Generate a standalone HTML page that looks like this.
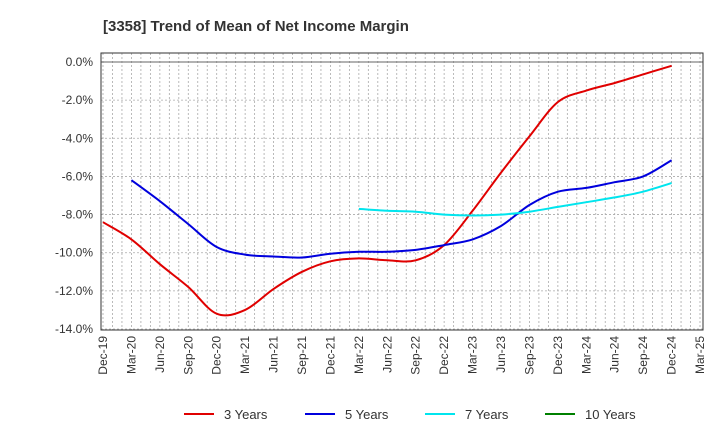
<!DOCTYPE html>
<html><head><meta charset="utf-8"><style>
body{margin:0;background:#fff;font-family:"Liberation Sans",sans-serif}
</style></head><body>
<svg id="chart" width="720" height="440" xmlns="http://www.w3.org/2000/svg">
<text x="103" y="31" font-size="15" font-weight="bold" fill="#333">[3358]  Trend of Mean of Net Income Margin</text>
<g id="grid"></g><g id="axes"></g><g id="series"></g>
<g id="legend"></g>
</svg>
<script>
const categories=["Dec-19","Mar-20","Jun-20","Sep-20","Dec-20","Mar-21","Jun-21","Sep-21","Dec-21","Mar-22","Jun-22","Sep-22","Dec-22","Mar-23","Jun-23","Sep-23","Dec-23","Mar-24","Jun-24","Sep-24","Dec-24","Mar-25"];
const yTicks=[0,-2,-4,-6,-8,-10,-12,-14];
const y3=[-8.4,-9.3,-10.6,-11.8,-13.2,-13.0,-11.9,-11.0,-10.45,-10.3,-10.4,-10.4,-9.6,-7.8,-5.8,-3.9,-2.1,-1.5,-1.1,-0.65,-0.2,null];
const y5=[null,-6.2,-7.3,-8.5,-9.7,-10.1,-10.2,-10.25,-10.05,-9.95,-9.95,-9.85,-9.6,-9.3,-8.6,-7.5,-6.8,-6.6,-6.3,-6.0,-5.15,null];
const y7=[null,null,null,null,null,null,null,null,null,-7.7,-7.8,-7.85,-8.0,-8.05,-8.0,-7.85,-7.6,-7.35,-7.1,-6.8,-6.35,null];
const y10=[];
const NS="http://www.w3.org/2000/svg";
const L=101,R=703,T=53,B=330,x0=103,x1=700;
const X=i=>x0+(x1-x0)*i/(categories.length-1);
const Y=v=>62+(v/-14)*(329-62);
function mk(t,a,p){const e=document.createElementNS(NS,t);for(const k in a)e.setAttribute(k,a[k]);p.appendChild(e);return e;}
const grid=document.getElementById('grid'),axes=document.getElementById('axes'),ser=document.getElementById('series');
for(let m=0;m<=(categories.length-1)*3;m++){const x=x0+(x1-x0)*m/((categories.length-1)*3);
 const g=mk('line',{x1:x,x2:x,y1:T,y2:B,stroke:'#aaa','stroke-dasharray':'2,2','stroke-width':0.8},grid);
 }
yTicks.forEach(v=>{const g=mk('line',{x1:L,x2:R,y1:Y(v),y2:Y(v),stroke:v===0?'#666':'#aaa','stroke-dasharray':v===0?'':'2,2','stroke-width':v===0?1:0.8},grid);
 
 const t=mk('text',{x:L-8,y:Y(v)+4,'text-anchor':'end','font-size':12,fill:'#333'},axes);t.textContent=v.toFixed(1)+'%';
 });
const fr=mk('rect',{x:L,y:T,width:R-L,height:B-T,fill:'none',stroke:'#333','stroke-width':1},axes);

categories.forEach((c,i)=>{const t=mk('text',{transform:`translate(${X(i)+4},${B+6}) rotate(-90)`,'text-anchor':'end','font-size':12,fill:'#333'},axes);t.textContent=c;
 });
function line(d,col,name){const pts=[];d.forEach((v,i)=>{if(v!=null)pts.push([X(i),Y(v)]);});
 if(pts.length<2)return;let p='M'+pts[0][0].toFixed(1)+','+pts[0][1].toFixed(1);
 for(let i=0;i<pts.length-1;i++){const a=pts[Math.max(0,i-1)],b=pts[i],c=pts[i+1],e=pts[Math.min(pts.length-1,i+2)];
  const c1x=b[0]+(c[0]-a[0])/6,c1y=b[1]+(c[1]-a[1])/6,c2x=c[0]-(e[0]-b[0])/6,c2y=c[1]-(e[1]-b[1])/6;
  p+=`C${c1x.toFixed(1)},${c1y.toFixed(1)} ${c2x.toFixed(1)},${c2y.toFixed(1)} ${c[0].toFixed(1)},${c[1].toFixed(1)}`;}
 const el=mk('path',{d:p,fill:'none',stroke:col,'stroke-width':2,'stroke-linejoin':'round'},ser);
 }
line(y3,'#e00000','line-3-years');line(y5,'#0000dd','line-5-years');line(y7,'#00e5ee','line-7-years');line(y10,'#008000','line-10-years');
const lg=document.getElementById('legend');
[['3 Years','#e00000',184],['5 Years','#0000dd',305],['7 Years','#00e5ee',425],['10 Years','#008000',545]].forEach(([n,c,x])=>{
 const g=mk('g',{},lg);
 mk('line',{x1:x,x2:x+30,y1:414,y2:414,stroke:c,'stroke-width':2},g);
 const t=mk('text',{x:x+40,y:419,'font-size':13,fill:'#333'},g);t.textContent=n;});
</script>
</body></html>
